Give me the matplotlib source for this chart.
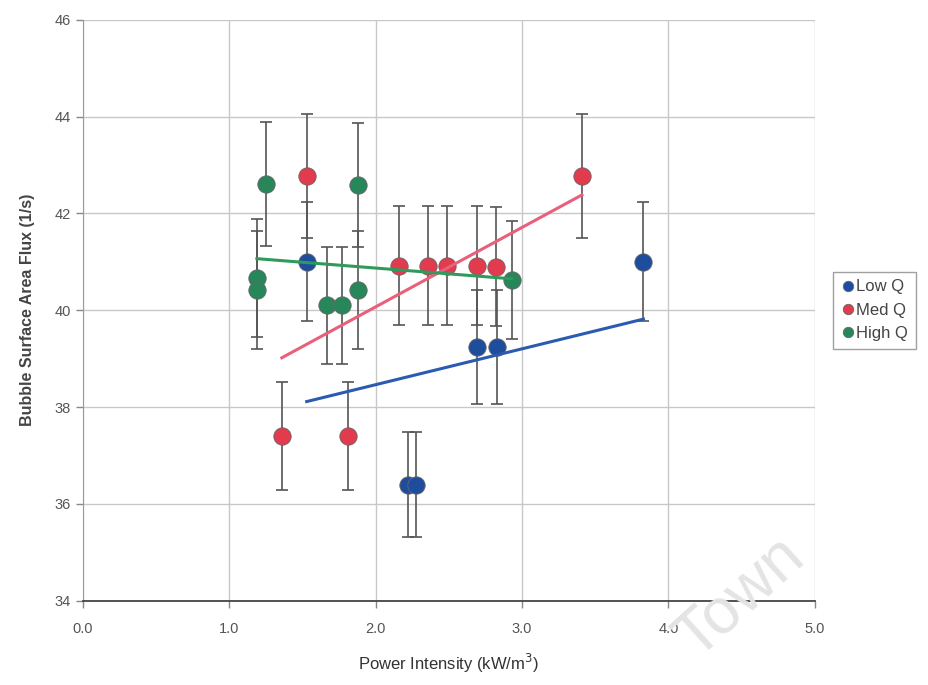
import numpy as np
import matplotlib.pyplot as plt

plt.rcParams['font.family'] = ['Liberation Sans', 'DejaVu Sans']

# power intensity (kW/m3) vs bubble surface area flux (1/s), per gas flow
low_x = [1.53, 2.22, 2.28, 2.69, 2.83, 3.83]
low_y = [41.0, 36.4, 36.4, 39.24, 39.24, 41.0]
low_err = [1.23, 1.09, 1.09, 1.18, 1.18, 1.23]

med_x = [1.36, 1.53, 1.81, 2.16, 2.36, 2.49, 2.69, 2.82, 3.41]
med_y = [37.4, 42.78, 37.4, 40.92, 40.92, 40.92, 40.92, 40.9, 42.78]
med_err = [1.12, 1.28, 1.12, 1.23, 1.23, 1.23, 1.23, 1.23, 1.28]

high_x = [1.19, 1.19, 1.25, 1.67, 1.77, 1.88, 1.88, 2.93]
high_y = [40.66, 40.42, 42.6, 40.1, 40.1, 42.59, 40.42, 40.63]
high_err = [1.22, 1.21, 1.28, 1.2, 1.2, 1.28, 1.21, 1.22]

series = [
    ("Low Q", low_x, low_y, low_err, "#1f4d9e", "#2b5bb0"),
    ("Med Q", med_x, med_y, med_err, "#e23b4e", "#e8607a"),
    ("High Q", high_x, high_y, high_err, "#27875a", "#2f9a5c"),
]

fig = plt.figure(figsize=(9.29, 6.85), dpi=100)
ax = fig.add_axes([0.089, 0.123, 0.788, 0.848])

for name, xs, ys, errs, col, lcol in series:
    ax.errorbar(xs, ys, yerr=errs, fmt='none', ecolor='#555555',
                elinewidth=1.2, capsize=4, capthick=1.2, zorder=2)
for name, xs, ys, errs, col, lcol in series:
    ax.plot(xs, ys, 'o', ms=12.5, color=col, mec='#666666', mew=0.6,
            label=name, zorder=3)
# linear trendlines over each series' range
for name, xs, ys, errs, col, lcol in series:
    k, b = np.polyfit(xs, ys, 1)
    xx = np.array([min(xs), max(xs)])
    ax.plot(xx, k * xx + b, color=lcol, lw=2.2, zorder=4)

ax.set_xlim(0, 5)
ax.set_ylim(34, 46)
ax.set_xticks(np.arange(0, 5.1, 1.0))
ax.set_xticklabels(['0.0', '1.0', '2.0', '3.0', '4.0', '5.0'])
ax.set_yticks(np.arange(34, 46.1, 2))
ax.grid(True, color='#c8c8c8', lw=1)
ax.set_axisbelow(True)
for s in ['top', 'right']:
    ax.spines[s].set_visible(False)
ax.spines['left'].set_color('#9a9a9a')
ax.spines['bottom'].set_color('#444444')
ax.spines['bottom'].set_linewidth(1.3)
ax.tick_params(axis='both', colors='#888888', labelcolor='#555555',
               labelsize=10.5, length=5, width=1)
ax.tick_params(axis='x', pad=10)

ax.set_xlabel('Power Intensity (kW/m$^3$)', fontsize=12, color='#333333',
              labelpad=12)
ax.set_ylabel('Bubble Surface Area Flux (1/s)', fontsize=11.5,
              fontweight='bold', color='#444444', labelpad=14)

leg = ax.legend(loc='center left', bbox_to_anchor=(1.025, 0.50), fontsize=12,
                handletextpad=0.05, handlelength=0.9, borderpad=0.45,
                labelspacing=0.5, fancybox=False, frameon=True,
                markerscale=0.6, borderaxespad=0)
leg.get_frame().set_edgecolor('#888888')
leg.get_frame().set_linewidth(1)
for t in leg.get_texts():
    t.set_color('#444444')

fig.text(0.797, 0.128, 'Town', fontsize=46, rotation=42, color='#e4e4e4',
         ha='center', va='center', zorder=0)

fig.savefig('out.png', dpi=100)
